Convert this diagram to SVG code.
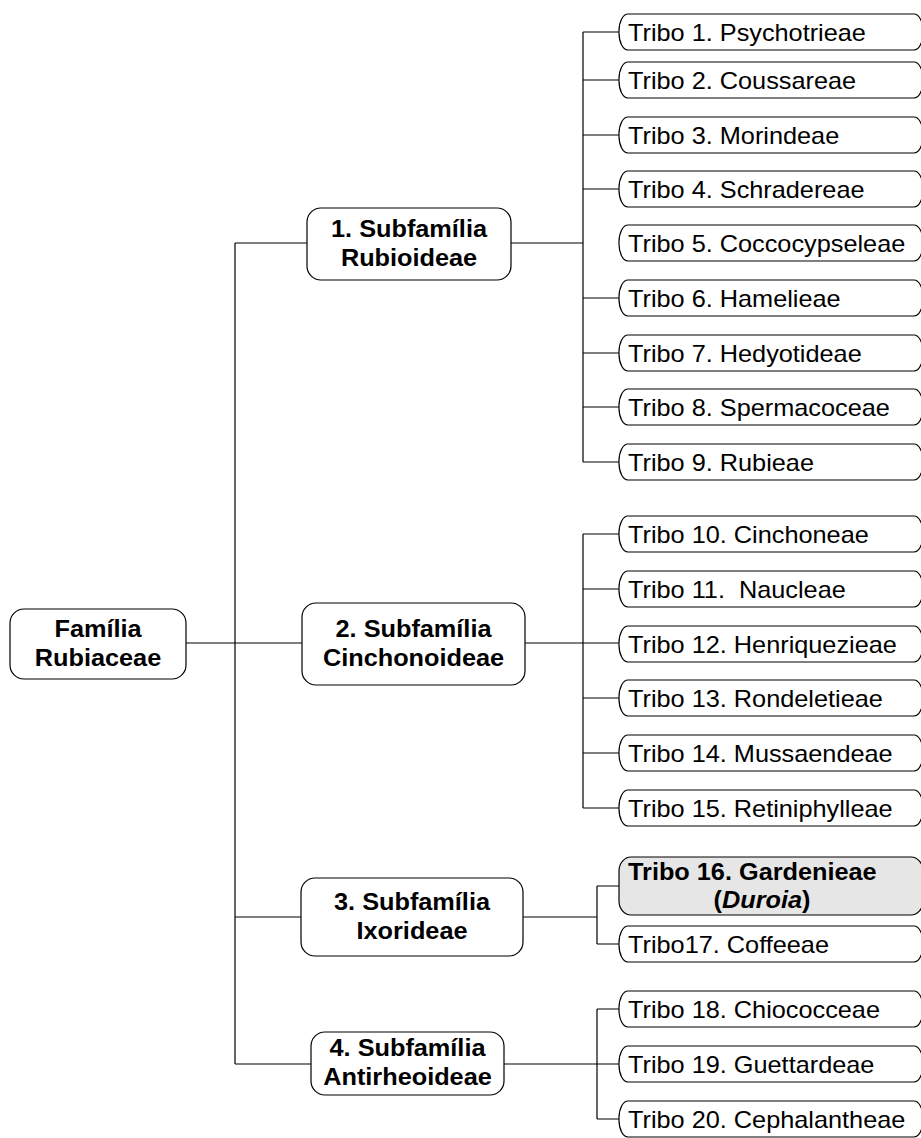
<svg xmlns="http://www.w3.org/2000/svg" width="921" height="1138" viewBox="0 0 921 1138">
<style>
.box{fill:#fff;stroke:#000;stroke-width:1.2}
.gray{fill:#e6e6e6;stroke:#000;stroke-width:1.2}
.ln{fill:none;stroke:#000;stroke-width:1.2}
.t{font-family:"Liberation Sans",Arial,sans-serif;font-size:23px;fill:#000}
.b{font-weight:bold}
.m{text-anchor:middle}
</style>
<rect width="921" height="1138" fill="#fff"/>
<g id="connectors">
<path class="ln" d="M186,643H302M235,243V1064M235,243H307M235,917H301M235,1064H311"/>
<path class="ln" d="M511,243H583M583,32V462M583,32H619M583,80H619M583,135H619M583,189H619M583,298H619M583,353H619M583,407H619M583,462H619"/>
<path class="ln" d="M525,643H619M583,534V808M583,534H619M583,589H619M583,698H619M583,753H619M583,808H619"/>
<path class="ln" d="M523,917H597M597,886V944M597,886H619M597,944H619"/>
<path class="ln" d="M504,1064H619M597,1009V1119M597,1009H619M597,1119H619"/>
</g>
<g id="familia">
<rect class="box" x="10" y="609" width="176" height="70" rx="14" ry="14"/>
<text class="t b m" transform="translate(98,637) scale(1.1,1)">Família</text>
<text class="t b m" transform="translate(98,666) scale(1.1,1)">Rubiaceae</text>
</g>
<g id="subfam1">
<rect class="box" x="307" y="208" width="204" height="72" rx="14" ry="14"/>
<text class="t b m" transform="translate(409,237) scale(1.1,1)">1. Subfamília</text>
<text class="t b m" transform="translate(409,266) scale(1.1,1)">Rubioideae</text>
</g>
<g id="subfam2">
<rect class="box" x="302" y="603" width="223" height="82" rx="14" ry="14"/>
<text class="t b m" transform="translate(413.5,637) scale(1.1,1)">2. Subfamília</text>
<text class="t b m" transform="translate(413.5,666) scale(1.1,1)">Cinchonoideae</text>
</g>
<g id="subfam3">
<rect class="box" x="301" y="878" width="222" height="78" rx="14" ry="14"/>
<text class="t b m" transform="translate(412,910) scale(1.1,1)">3. Subfamília</text>
<text class="t b m" transform="translate(412,939) scale(1.1,1)">Ixorideae</text>
</g>
<g id="subfam4">
<rect class="box" x="311" y="1032" width="193" height="63" rx="14" ry="14"/>
<text class="t b m" transform="translate(407.5,1056) scale(1.1,1)">4. Subfamília</text>
<text class="t b m" transform="translate(407.5,1085) scale(1.1,1)">Antirheoideae</text>
</g>
<g id="tribo1"><rect class="box" x="619" y="14" width="304" height="36" rx="9" ry="17"/><text class="t" transform="translate(628,40.5) scale(1.1,1)">Tribo 1. Psychotrieae</text></g>
<g id="tribo2"><rect class="box" x="619" y="62" width="304" height="36" rx="9" ry="17"/><text class="t" transform="translate(628,88.5) scale(1.1,1)">Tribo 2. Coussareae</text></g>
<g id="tribo3"><rect class="box" x="619" y="117" width="304" height="36" rx="9" ry="17"/><text class="t" transform="translate(628,143.5) scale(1.1,1)">Tribo 3. Morindeae</text></g>
<g id="tribo4"><rect class="box" x="619" y="171" width="304" height="36" rx="9" ry="17"/><text class="t" transform="translate(628,197.5) scale(1.1,1)">Tribo 4. Schradereae</text></g>
<g id="tribo5"><rect class="box" x="619" y="225" width="304" height="36" rx="9" ry="17"/><text class="t" transform="translate(628,251.5) scale(1.1,1)">Tribo 5. Coccocypseleae</text></g>
<g id="tribo6"><rect class="box" x="619" y="280" width="304" height="36" rx="9" ry="17"/><text class="t" transform="translate(628,306.5) scale(1.1,1)">Tribo 6. Hamelieae</text></g>
<g id="tribo7"><rect class="box" x="619" y="335" width="304" height="36" rx="9" ry="17"/><text class="t" transform="translate(628,361.5) scale(1.1,1)">Tribo 7. Hedyotideae</text></g>
<g id="tribo8"><rect class="box" x="619" y="389" width="304" height="36" rx="9" ry="17"/><text class="t" transform="translate(628,415.5) scale(1.1,1)">Tribo 8. Spermacoceae</text></g>
<g id="tribo9"><rect class="box" x="619" y="444" width="304" height="36" rx="9" ry="17"/><text class="t" transform="translate(628,470.5) scale(1.1,1)">Tribo 9. Rubieae</text></g>
<g id="tribo10"><rect class="box" x="619" y="516" width="304" height="36" rx="9" ry="17"/><text class="t" transform="translate(628,542.5) scale(1.1,1)">Tribo 10. Cinchoneae</text></g>
<g id="tribo11"><rect class="box" x="619" y="571" width="304" height="36" rx="9" ry="17"/><text class="t" transform="translate(628,597.5) scale(1.1,1)">Tribo 11.&#160; Naucleae</text></g>
<g id="tribo12"><rect class="box" x="619" y="626" width="304" height="36" rx="9" ry="17"/><text class="t" transform="translate(628,652.5) scale(1.1,1)">Tribo 12. Henriquezieae</text></g>
<g id="tribo13"><rect class="box" x="619" y="680" width="304" height="36" rx="9" ry="17"/><text class="t" transform="translate(628,706.5) scale(1.1,1)">Tribo 13. Rondeletieae</text></g>
<g id="tribo14"><rect class="box" x="619" y="735" width="304" height="36" rx="9" ry="17"/><text class="t" transform="translate(628,761.5) scale(1.1,1)">Tribo 14. Mussaendeae</text></g>
<g id="tribo15"><rect class="box" x="619" y="790" width="304" height="36" rx="9" ry="17"/><text class="t" transform="translate(628,816.5) scale(1.1,1)">Tribo 15. Retiniphylleae</text></g>
<g id="tribo16"><rect class="gray" x="619" y="857" width="304" height="58" rx="12" ry="14"/>
<text class="t b" transform="translate(628,880) scale(1.1,1)">Tribo 16. Gardenieae</text>
<text class="t b m" transform="translate(762,908) scale(1.1,1)">(<tspan font-style="italic">Duroia</tspan>)</text></g>
<g id="tribo17"><rect class="box" x="619" y="926" width="304" height="36" rx="9" ry="17"/><text class="t" transform="translate(628,952.5) scale(1.1,1)">Tribo17. Coffeeae</text></g>
<g id="tribo18"><rect class="box" x="619" y="991" width="304" height="36" rx="9" ry="17"/><text class="t" transform="translate(628,1017.5) scale(1.1,1)">Tribo 18. Chiococceae</text></g>
<g id="tribo19"><rect class="box" x="619" y="1046" width="304" height="36" rx="9" ry="17"/><text class="t" transform="translate(628,1072.5) scale(1.1,1)">Tribo 19. Guettardeae</text></g>
<g id="tribo20"><rect class="box" x="619" y="1101" width="304" height="36" rx="9" ry="17"/><text class="t" transform="translate(628,1127.5) scale(1.1,1)">Tribo 20. Cephalantheae</text></g>
</svg>
